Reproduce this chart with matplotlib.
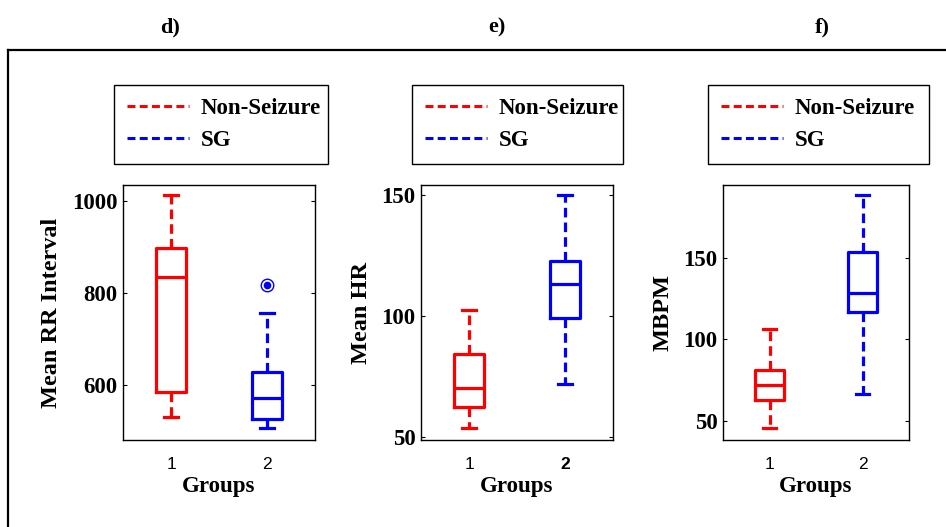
import matplotlib
matplotlib.use('Agg')
import matplotlib.pyplot as plt
from matplotlib.lines import Line2D

# box stats: (whisker low, q1, median, q3, whisker high)
rr_nonseizure = [531, 586, 835, 899, 1013]
rr_sg = [508, 527, 573, 628, 756]
rr_sg_outliers = [817]
hr_nonseizure = [53.4, 62.1, 70.3, 84.1, 102.5]
hr_sg = [71.7, 99.2, 113.0, 122.8, 150.0]
bpm_nonseizure = [45.7, 63.0, 71.9, 81.5, 106.5]
bpm_sg = [66.3, 117.1, 128.6, 154.1, 189.0]

groups = ['1', '2']
series_labels = ['Non-Seizure', 'SG']
panel_titles = ['d)', 'e)', 'f)']
ylabels = ['Mean RR Interval', 'Mean HR', 'MBPM']
yticks = [[600, 800, 1000], [50, 100, 150], [50, 100, 150]]
ylims = [(481, 1035), (48.6, 154.1), (38.1, 195.1)]

panels = [
    (rr_nonseizure, rr_sg, [], rr_sg_outliers),
    (hr_nonseizure, hr_sg, [], []),
    (bpm_nonseizure, bpm_sg, [], []),
]

colors = ['#ff0000', '#0000ff']
serif = 'Liberation Serif'
sans = 'Liberation Sans'
dash = (0, (3.0, 1.6))

W, H = 946, 527
fig = plt.figure(figsize=(W / 100, H / 100), dpi=100, facecolor='white')

ax_px = [(123, 315), (421, 613), (723, 909)]
leg_px = [(114, 328), (412, 623), (708, 929)]
title_x = [170, 497, 822]
top, bottom = 185, 440


def stats(v, fl):
    return dict(whislo=v[0], q1=v[1], med=v[2], q3=v[3], whishi=v[4], fliers=fl)


for i, (g1, g2, f1, f2) in enumerate(panels):
    x0, x1 = ax_px[i]
    ax = fig.add_axes([x0 / W, 1 - bottom / H, (x1 - x0) / W, (bottom - top) / H])
    for j, (vals, fl) in enumerate([(g1, f1), (g2, f2)]):
        c = colors[j]
        ax.bxp([stats(vals, fl)], positions=[j + 1], widths=0.31, capwidths=0.14,
               boxprops=dict(color=c, lw=2.3),
               medianprops=dict(color=c, lw=2.3),
               whiskerprops=dict(color=c, lw=2.3, ls=dash),
               capprops=dict(color=c, lw=2.3),
               flierprops=dict(marker='o', mfc=c, mec='none', ms=5.5))
        if fl:
            ax.plot([j + 1] * len(fl), fl, ls='none', marker='o', mfc='none',
                    mec=c, mew=1.0, ms=9)
    ax.set_xlim(0.5, 2.5)
    ax.set_ylim(*ylims[i])
    ax.set_yticks(yticks[i])
    ax.set_xticks([1, 2])
    ax.set_xticklabels(groups, family=sans, fontsize=12.5)
    if i == 1:
        ax.get_xticklabels()[1].set_fontweight('bold')
    for t in ax.get_yticklabels():
        t.set_family(serif)
        t.set_fontweight('bold')
        t.set_fontsize(16.5)
    ax.tick_params(axis='y', direction='in', length=3, width=0.8, right=True, pad=4)
    ax.tick_params(axis='x', length=0, pad=12)
    for s in ax.spines.values():
        s.set_linewidth(1.0)
    ax.set_ylabel(ylabels[i], family=serif, fontweight='bold', fontsize=17.5, labelpad=7)
    ax.set_xlabel('Groups', family=serif, fontweight='bold', fontsize=16.5, labelpad=3)

    handles = [Line2D([], [], color=colors[k], lw=2.2, ls=(0, (2.6, 1.4))) for k in range(2)]
    lx0, lx1 = leg_px[i]
    leg = ax.legend(handles, series_labels, loc='upper left',
                    bbox_to_anchor=(lx0 / W, 1 - 84.7 / H, (lx1 - lx0) / W, 0),
                    bbox_transform=fig.transFigure, mode='expand', borderaxespad=0,
                    prop=dict(family=serif, weight='bold', size=16.5),
                    handlelength=2.7, handletextpad=0.5, borderpad=0.57,
                    labelspacing=0.5, fancybox=False, edgecolor='black', framealpha=1)
    leg.get_frame().set_linewidth(1.0)

    fig.text(title_x[i] / W, 1 - 27 / H, panel_titles[i], family=serif,
             fontweight='bold', fontsize=16, ha='center', va='center')

# outer frame, only top and left edges are inside the picture
fig.add_artist(Line2D([8 / W, 1], [1 - 49.5 / H] * 2, transform=fig.transFigure,
                      color='black', lw=1.6))
fig.add_artist(Line2D([8 / W, 8 / W], [1 - 49.5 / H, 0], transform=fig.transFigure,
                      color='black', lw=1.6))

fig.savefig('out.png', dpi=100)
